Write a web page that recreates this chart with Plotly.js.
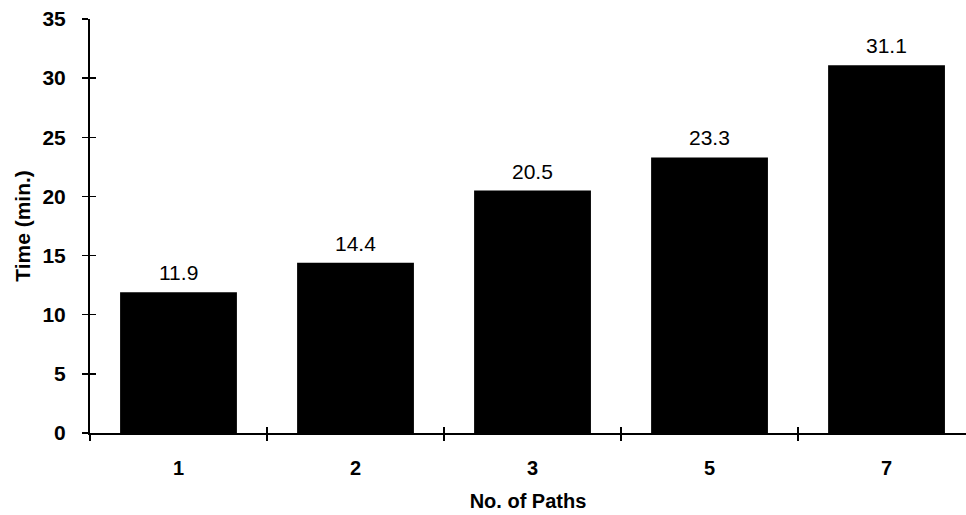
<!DOCTYPE html>
<html>
<head>
<meta charset="utf-8">
<script src="https://cdn.plot.ly/plotly-3.0.1.min.js"></script>
<style>html,body{margin:0;padding:0;background:#fff;}#chart{width:966px;height:515px;}</style>
</head>
<body>
<div id="chart"></div>
<script>
const categories = ["1", "2", "3", "5", "7"];
const times = [11.9, 14.4, 20.5, 23.3, 31.1];
const labels = ["11.9", "14.4", "20.5", "23.3", "31.1"];
const yTicks = [0, 5, 10, 15, 20, 25, 30, 35];

const FONT = "Liberation Sans, Arial, Helvetica, sans-serif";

const trace = {
  type: "bar",
  x: categories,
  y: times,
  marker: {color: "#000000", line: {width: 0}},
  width: 0.66,
  hoverinfo: "x+y"
};

const annotations = categories.map((c, i) => ({
  x: i, y: times[i], xref: "x", yref: "y",
  text: labels[i], showarrow: false,
  xanchor: "center", yanchor: "bottom", yshift: 6,
  font: {family: FONT, size: 21, color: "#000000"}
}));

const layout = {
  width: 966, height: 515,
  margin: {l: 90, r: 0, t: 19, b: 82},
  paper_bgcolor: "#fff", plot_bgcolor: "#fff",
  showlegend: false,
  font: {family: FONT, color: "#000"},
  xaxis: {
    type: "category",
    range: [-0.5, 4.449],
    tickson: "boundaries",
    ticks: "outside", ticklen: 6, tickwidth: 1.5, tickcolor: "#000",
    showline: true, linecolor: "#000", linewidth: 2,
    showgrid: false, zeroline: false,
    tickfont: {family: FONT, size: 20, color: "#000", weight: "bold"},
    ticklabelstandoff: 16,
    title: {text: "<b>No. of Paths</b>", font: {family: FONT, size: 20, color: "#000"}, standoff: 16}
  },
  xaxis2: {
    type: "category", overlaying: "x",
    range: [-0.5, 4.449],
    tickson: "boundaries",
    ticks: "inside", ticklen: 6, tickwidth: 1.5, tickcolor: "#000",
    showticklabels: false, showgrid: false, zeroline: false, showline: false
  },
  yaxis: {
    range: [0, 35],
    tickvals: yTicks,
    ticks: "outside", ticklen: 6, tickwidth: 1.5, tickcolor: "#000",
    showline: true, linecolor: "#000", linewidth: 2,
    showgrid: false, zeroline: false,
    tickfont: {family: FONT, size: 21, color: "#000", weight: "bold"},
    ticklabelstandoff: 12,
    title: {text: "<b>Time (min.)</b>", font: {family: FONT, size: 21, color: "#000"}, standoff: 6}
  },
  yaxis2: {
    range: [0, 35], overlaying: "y",
    tickvals: yTicks,
    ticks: "inside", ticklen: 6, tickwidth: 1.5, tickcolor: "#000",
    showticklabels: false, showgrid: false, zeroline: false, showline: false
  },
  annotations: annotations
};

const ghost = {type: "scatter", x: categories, y: times, xaxis: "x2", yaxis: "y2", mode: "markers", marker: {opacity: 0}, hoverinfo: "skip"};

Plotly.newPlot("chart", [trace, ghost], layout, {displayModeBar: false, staticPlot: true});
</script>
</body>
</html>
